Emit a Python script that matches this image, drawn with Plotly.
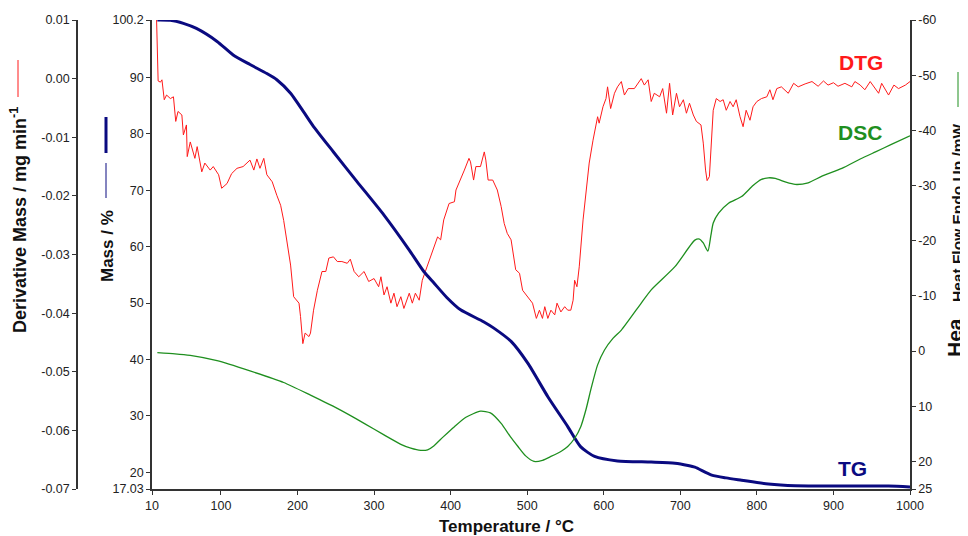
import plotly.graph_objects as go

# ---------------- data ----------------
dtg_T = [16, 18, 21, 23, 26, 29, 34, 38, 41, 44, 49, 51, 55, 56, 60, 66, 69, 75, 79, 86, 90, 97,
         101, 108, 114, 121, 129, 138, 143, 147, 151, 156, 160, 167, 173, 178, 182, 186, 191, 195,
         202, 204, 207, 210, 215, 217, 221, 226, 232, 237, 241, 247, 252, 258, 265, 269, 274, 280,
         287, 293, 300, 306, 309, 313, 317, 322, 326, 330, 335, 339, 346, 350, 354, 359, 363, 367,
         374, 378, 383, 387, 391, 398, 405, 407, 413, 418, 424, 426, 430, 433, 439, 444, 446, 449,
         455, 461, 466, 470, 474, 479, 485, 490, 494, 501, 507, 512, 516, 520, 523, 527, 531, 536,
         539, 544, 549, 553, 557, 560, 562, 565, 568, 573, 577, 581, 586, 590, 592, 594, 599, 603,
         605, 609, 614, 618, 623, 627, 632, 640, 649, 653, 658, 662, 666, 673, 677, 682, 686, 690,
         695, 699, 704, 708, 712, 717, 721, 727, 730, 733, 735, 738, 741, 743, 747, 752, 756, 760,
         765, 769, 773, 778, 782, 786, 791, 795, 800, 806, 813, 817, 821, 826, 832, 841, 848, 854,
         863, 872, 880, 887, 893, 900, 906, 915, 924, 928, 935, 941, 948, 955, 959, 963, 972, 979,
         985, 994, 1000]
dtg_D = [0.0100, -0.0004, -0.0006, -0.0002, -0.0036, -0.0028, -0.0034, -0.0031, -0.0073, -0.0056,
         -0.0062, -0.0096, -0.0079, -0.0133, -0.0108, -0.0136, -0.0116, -0.0159, -0.0144, -0.0156,
         -0.0150, -0.0164, -0.0187, -0.0179, -0.0162, -0.0153, -0.0150, -0.0139, -0.0156, -0.0137,
         -0.0153, -0.0136, -0.0164, -0.0176, -0.0199, -0.0216, -0.0242, -0.0280, -0.0318, -0.0372,
         -0.0383, -0.0406, -0.0452, -0.0434, -0.0440, -0.0434, -0.0395, -0.0361, -0.0329, -0.0329,
         -0.0306, -0.0304, -0.0312, -0.0312, -0.0315, -0.0308, -0.0329, -0.0338, -0.0329, -0.0346,
         -0.0341, -0.0355, -0.0338, -0.0369, -0.0355, -0.0383, -0.0366, -0.0389, -0.0372, -0.0392,
         -0.0366, -0.0383, -0.0366, -0.0378, -0.0344, -0.0329, -0.0304, -0.0287, -0.0270, -0.0275,
         -0.0241, -0.0213, -0.0210, -0.0190, -0.0173, -0.0156, -0.0136, -0.0142, -0.0173, -0.0150,
         -0.0150, -0.0125, -0.0139, -0.0173, -0.0173, -0.0190, -0.0218, -0.0247, -0.0264, -0.0275,
         -0.0326, -0.0332, -0.0361, -0.0372, -0.0383, -0.0409, -0.0395, -0.0409, -0.0389, -0.0409,
         -0.0395, -0.0403, -0.0383, -0.0398, -0.0389, -0.0395, -0.0395, -0.0378, -0.0344, -0.0355,
         -0.0321, -0.0241, -0.0190, -0.0144, -0.0105, -0.0076, -0.0065, -0.0076, -0.0048, -0.0034,
         -0.0014, -0.0051, -0.0025, -0.0014, -0.0005, -0.0028, -0.0017, -0.0017, 0.0000, -0.0011,
         -0.0002, -0.0039, -0.0025, -0.0031, -0.0017, -0.0059, -0.0008, -0.0062, -0.0025, -0.0048,
         -0.0036, -0.0059, -0.0042, -0.0062, -0.0073, -0.0079, -0.0110, -0.0156, -0.0174, -0.0167,
         -0.0099, -0.0054, -0.0034, -0.0039, -0.0036, -0.0054, -0.0039, -0.0048, -0.0036, -0.0065,
         -0.0082, -0.0054, -0.0071, -0.0048, -0.0039, -0.0034, -0.0031, -0.0019, -0.0036, -0.0017,
         -0.0014, -0.0025, -0.0008, -0.0014, -0.0009, -0.0005, -0.0013, -0.0004, -0.0011, -0.0007,
         -0.0013, -0.0008, -0.0014, -0.0005, -0.0011, -0.0019, -0.0005, -0.0017, -0.0025, -0.0008,
         -0.0028, -0.0011, -0.0017, -0.0011, -0.0005]

tg_T = [17, 34, 51, 68, 95, 116, 138, 160, 173, 191, 208, 221, 247, 278, 313, 346, 365, 378,
        395, 413, 443, 456, 479, 501, 527, 553, 570, 588, 618, 662, 693, 710, 719, 741, 760, 780,
        815, 850, 972, 1000]
tg_M = [100.2, 100.15, 99.6, 98.7, 96.4, 94.0, 92.3, 90.7, 89.6, 87.2, 83.9, 81.3, 76.8, 71.5,
        65.6, 59.4, 55.6, 53.6, 51.0, 48.8, 46.7, 45.6, 43.2, 39.3, 33.4, 28.1, 24.5, 22.8, 22.0,
        21.8, 21.6, 21.2, 20.9, 19.5, 19.0, 18.6, 17.9, 17.6, 17.55, 17.4]

dsc_T = [17, 40, 60, 95, 138, 182, 217, 252, 287, 313, 335, 348, 361, 370, 378, 390, 405, 420, 439,
         452, 466, 478, 488, 498, 509, 520, 531, 545, 553, 562, 570, 577, 584, 592, 601, 612, 623,
         649, 662, 693, 719, 725, 730, 736, 740, 743, 750, 763, 780, 795, 806, 815, 824, 838, 850,
         867, 885, 911, 935, 955, 975, 1000]
dsc_H = [0.3, 0.5, 0.8, 1.75, 3.6, 5.7, 8.0, 10.4, 13.1, 15.2, 16.9, 17.6, 18.0, 17.9, 17.2, 15.6,
         13.7, 12.0, 10.9, 11.2, 13.1, 15.5, 17.3, 19.0, 20.0, 19.8, 19.1, 18.1, 17.3, 15.8, 13.7,
         10.5, 6.5, 2.5, -0.2, -2.3, -3.8, -8.7, -11.1, -15.3, -20.1, -20.3, -19.6, -18.1, -21.0,
         -23.2, -25.0, -26.8, -28.0, -30.0, -31.1, -31.4, -31.3, -30.6, -30.2, -30.5, -31.7, -33.1,
         -34.8, -36.1, -37.4, -39.0]

x_ticks = [10, 100, 200, 300, 400, 500, 600, 700, 800, 900, 1000]
dtg_ticks = [-0.07, -0.06, -0.05, -0.04, -0.03, -0.02, -0.01, 0.00, 0.01]
dtg_ticktext = ["-0.07", "-0.06", "-0.05", "-0.04", "-0.03", "-0.02", "-0.01", "0.00", "0.01"]
mass_ticks = [17.03, 20, 30, 40, 50, 60, 70, 80, 90, 100.2]
mass_ticktext = ["17.03", "20", "30", "40", "50", "60", "70", "80", "90", "100.2"]
dsc_ticks = [-60, -50, -40, -30, -20, -10, 0, 10, 20, 25]
dsc_ticktext = ["-60", "-50", "-40", "-30", "-20", "-10", "0", "10", "20", "25"]

# ---------------- layout helpers ----------------
# the page body has an 8px margin, so the figure sits at (8, 8) in the window
OFF = 8
W, H = 968 - OFF, 536 - OFF
TOP, BOT = 20, 489          # plot area top/bottom in window pixels
FONT = "Liberation Sans, Arial, sans-serif"


def px(xp):
    return (xp - OFF) / W


def py(yp):
    return (BOT - yp) / (BOT - TOP)


axis_common = dict(showgrid=False, zeroline=False, showline=True, linecolor="#333333",
                   linewidth=1.5, ticks="outside", ticklen=4, tickwidth=1.2, tickcolor="#333333",
                   automargin=False,
                   tickfont=dict(family=FONT, size=12.5, color="#222"))

fig = go.Figure()
fig.add_trace(go.Scatter(x=dtg_T, y=dtg_D, mode="lines", line=dict(color="#ff1a1a", width=1),
                         yaxis="y", showlegend=False))
fig.add_trace(go.Scatter(x=tg_T, y=tg_M, mode="lines", line=dict(color="#0a0a80", width=3,
                         shape="spline", smoothing=0.6), yaxis="y2", showlegend=False))
fig.add_trace(go.Scatter(x=dsc_T, y=dsc_H, mode="lines", line=dict(color="#1f8f1f", width=1.3,
                         shape="spline", smoothing=0.6), yaxis="y3", showlegend=False))

fig.update_layout(
    width=W, height=H,
    margin=dict(l=0, r=0, t=TOP - OFF, b=536 - BOT, autoexpand=False),
    paper_bgcolor="white", plot_bgcolor="white",
    xaxis=dict(domain=[px(152), px(910)], range=[10, 1000], tickvals=x_ticks, anchor="y2",
               **axis_common),
    yaxis=dict(anchor="free", position=px(77), side="left", range=[-0.07, 0.01],
               tickvals=dtg_ticks, ticktext=dtg_ticktext, **axis_common),
    yaxis2=dict(overlaying="y", anchor="x", side="left", range=[17.03, 100.2],
                tickvals=mass_ticks, ticktext=mass_ticktext, **axis_common),
    yaxis3=dict(overlaying="y", anchor="x", side="right", range=[25, -60],
                tickvals=dsc_ticks, ticktext=dsc_ticktext, **axis_common),
)

ann = []
ann.append(dict(text="<b>Derivative Mass / mg min<sup>-1</sup></b>", x=px(18), y=py(220),
                textangle=-90, font=dict(family=FONT, size=18, color="#111")))
ann.append(dict(text="<b>Mass / %</b>", x=px(107), y=py(246), textangle=-90,
                font=dict(family=FONT, size=17, color="#111")))
ann.append(dict(text="<b>Heat Flow Endo Up /mW</b>", x=px(957), y=py(213), textangle=-90,
                font=dict(family=FONT, size=15.5, color="#111")))
ann.append(dict(text="<b>Hea</b>", x=px(954), y=py(338), textangle=-90,
                font=dict(family=FONT, size=21, color="#111")))
ann.append(dict(text="<b>Temperature / °C</b>", x=px(506), y=py(526),
                font=dict(family=FONT, size=17, color="#111")))
ann.append(dict(text="<b>DTG</b>", x=px(861), y=py(63), font=dict(family=FONT, size=21, color="#ff1a1a")))
ann.append(dict(text="<b>DSC</b>", x=px(860), y=py(132), font=dict(family=FONT, size=21, color="#1f8f1f")))
ann.append(dict(text="<b>TG</b>", x=px(852), y=py(468), font=dict(family=FONT, size=21, color="#0a0a80")))
for a in ann:
    a.update(xref="paper", yref="paper", showarrow=False, xanchor="center", yanchor="middle")
fig.update_layout(annotations=ann)

shapes = [
    dict(x0=px(18), x1=px(18), y0=py(60), y1=py(97), line=dict(color="#ff1a1a", width=1)),
    dict(x0=px(106), x1=px(106), y0=py(117), y1=py(153), line=dict(color="#0a0a80", width=3)),
    dict(x0=px(106), x1=px(106), y0=py(163), y1=py(198), line=dict(color="#0a0a80", width=1)),
    dict(x0=px(958), x1=px(958), y0=py(72), y1=py(107), line=dict(color="#1f8f1f", width=1)),
]
for s in shapes:
    s.update(type="line", xref="paper", yref="paper")
fig.update_layout(shapes=shapes)

fig.write_html("out.html")
